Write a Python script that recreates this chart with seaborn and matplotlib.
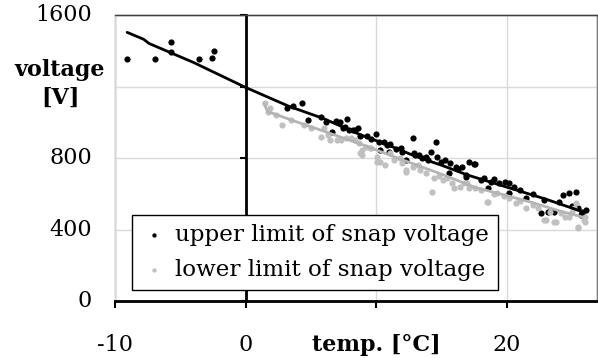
import matplotlib
matplotlib.use("Agg")
from matplotlib import pyplot as plt
from matplotlib.transforms import blended_transform_factory
import seaborn as sns
import pandas as pd

# upper limit of snap voltage (black dots)
upper_x = [-9.1, -6.9, -5.7, -5.7, -3.6, -2.6, -2.4,
           3.2, 3.6, 4.3, 4.8, 5.8, 6.2, 6.6, 6.9, 7.2, 7.5, 7.6, 7.8, 7.9,
           8.2, 8.4, 8.6, 8.8, 9.3, 9.6, 10.0, 10.2, 10.3, 10.6, 10.8, 11.0,
           11.1, 11.5, 11.9, 12.0, 12.3, 12.8, 12.9, 13.0, 13.3, 13.5, 13.8,
           14.0, 14.2, 14.6, 14.7, 15.0, 15.3, 15.6, 15.7, 16.1, 16.3, 16.6,
           16.9, 16.9, 17.1, 17.5, 17.6, 18.0, 18.3, 18.6, 18.8, 19.0, 19.4,
           19.9, 20.2, 20.2, 20.6, 21.0, 21.5, 22.0, 22.6, 22.9, 23.2, 23.6,
           24.0, 24.3, 24.8, 25.0, 25.3, 25.5, 25.7, 25.8, 25.8, 26.05]
upper_y = [1354, 1354, 1449, 1393, 1354, 1360, 1399,
           1078, 1090, 1106, 1014, 1028, 1000, 947, 1009, 1000, 966, 972, 1016, 957,
           957, 957, 966, 925, 923, 905, 932, 891, 845, 891, 870, 835,
           878, 850, 854, 835, 789, 910, 826, 815, 817, 800, 807,
           790, 835, 891, 807, 775, 789, 714, 770, 751, 740, 751,
           692, 705, 779, 766, 766, 677, 690, 630, 667, 680, 658,
           667, 658, 602, 640, 620, 574, 600, 491, 565, 500, 500,
           555, 593, 602, 530, 611, 520, 481, 500, 491, 509]

# lower limit of snap voltage (grey dots)
lower_x = [1.5, 1.7, 1.9, 2.3, 2.8, 3.5, 4.5, 5.0, 5.8, 6.0, 6.3, 6.5, 7.0, 7.3,
           7.7, 8.1, 8.4, 8.7, 8.8, 8.9, 8.9, 9.2, 9.5, 9.6, 10.1, 10.1, 10.3,
           10.7, 11.1, 11.4, 11.8, 12.0, 12.3, 12.3, 12.8, 13.2, 13.4, 13.8,
           14.3, 14.4, 14.8, 15.1, 15.4, 15.8, 16.0, 16.4, 16.7, 17.0, 17.1,
           17.6, 18.0, 18.5, 18.6, 19.0, 19.3, 19.8, 20.2, 20.7, 21.0, 21.5,
           22.0, 22.4, 22.9, 23.0, 23.3, 23.6, 23.8, 24.2, 24.5, 24.8, 25.0,
           25.2, 25.3, 25.5, 25.5, 25.9, 26.0, 26.0]
lower_y = [1106, 1059, 1080, 1040, 985, 1010, 985, 970, 919, 966, 929, 901, 901, 901,
           910, 910, 901, 882, 826, 845, 817, 860, 854, 854, 779, 807, 779,
           761, 826, 790, 798, 770, 733, 723, 750, 761, 733, 714,
           611, 686, 700, 677, 690, 658, 630, 639, 660, 658, 630,
           630, 620, 556, 556, 600, 602, 590, 574, 546, 560, 518,
           537, 520, 453, 453, 500, 444, 444, 490, 472, 470, 500,
           518, 546, 407, 416, 453, 440, 470]

# trend lines
upper_line_x = [-9.07, -7.8, -7.4, -4.0, 0.0, 3.3, 6.0, 8.8, 11.0, 13.0, 15.0,
                17.0, 19.0, 21.0, 23.0, 25.8]
upper_line_y = [1503, 1464, 1441, 1335, 1195, 1090, 1020, 930, 870, 810, 760,
                705, 660, 615, 570, 500]
lower_line_x = [1.4, 1.7, 4.0, 6.0, 9.0, 12.0, 15.0, 17.6, 20.0, 22.0, 24.0, 25.8]
lower_line_y = [1105, 1060, 1000, 950, 873, 790, 710, 635, 590, 550, 505, 470]

x_ticks = [-10, 0, 10, 20]
x_labels = ["-10", "0", "temp. [°C]", "20"]
y_ticks = [0, 400, 800, 1200, 1600]
y_labels = ["0", "400", "800", "voltage\n[V]", "1600"]

sns.set_style("white")
plt.rcParams["font.family"] = ["DejaVu Serif"]
plt.rcParams["text.color"] = "black"
plt.rcParams["xtick.color"] = "black"
plt.rcParams["ytick.color"] = "black"
fs = 16

fig = plt.figure(figsize=(5.98, 3.58), dpi=100)
ax = fig.add_axes([0.1923, 0.1592, 0.8055, 0.7989])

sns.scatterplot(x=upper_x, y=upper_y, color="black", s=20, linewidth=0,
                label="upper limit of snap voltage", ax=ax, zorder=3)
sns.scatterplot(x=lower_x, y=lower_y, color="#c0c0c0", s=20, linewidth=0,
                label="lower limit of snap voltage", ax=ax, zorder=3)
sns.lineplot(x=lower_line_x, y=lower_line_y, color="#b4b4b4", lw=2,
             sort=False, legend=False, ax=ax, zorder=4)
sns.lineplot(x=upper_line_x, y=upper_line_y, color="black", lw=2,
             sort=False, legend=False, ax=ax, zorder=4)

ax.set_xlim(-10, 26.9)
ax.set_ylim(0, 1600)
ax.set_xticks(x_ticks)
ax.set_xticklabels(x_labels, fontsize=fs)
ax.get_xticklabels()[2].set_fontweight("bold")
ax.set_yticks(y_ticks)
ax.set_axisbelow(True)
ax.grid(True, color="#d9d9d9", lw=1)

# frame and axes crossing at zero
ax.patch.set_edgecolor("#808080")
ax.patch.set_linewidth(1)
ax.spines["left"].set_position(("data", 0))
ax.spines["left"].set_color("black")
ax.spines["left"].set_linewidth(2)
ax.spines["bottom"].set_color("black")
ax.spines["bottom"].set_linewidth(2)
ax.spines["top"].set_color("#404040")
ax.spines["top"].set_linewidth(1)
ax.spines["right"].set_color("#808080")
ax.spines["right"].set_linewidth(1)
ax.tick_params(axis="x", direction="out", length=5, width=1.5, pad=19,
               bottom=True, colors="black")
ax.tick_params(axis="y", direction="out", length=4, width=1.5, left=True,
               labelleft=False)
ax.set_xlabel("")
ax.set_ylabel("")

trans = blended_transform_factory(ax.transAxes, ax.transData)
for val, lab in zip(y_ticks, y_labels):
    if "\n" in lab:
        ax.text(-0.114, val + 15, lab, transform=trans, ha="center", va="center",
                fontsize=fs, fontweight="bold", linespacing=1.35)
    else:
        ax.text(-0.048, val, lab, transform=trans, ha="right", va="center",
                fontsize=fs)

leg = ax.legend(loc="lower left", bbox_to_anchor=(0.035, 0.038),
                borderaxespad=0, fancybox=False, edgecolor="black",
                framealpha=1, fontsize=16.6, borderpad=0.4, labelspacing=0.55,
                handlelength=1.1, handletextpad=0.35, markerscale=0.7)
leg.get_frame().set_linewidth(1)
leg.set_zorder(10)

fig.savefig("out.png", dpi=100)
